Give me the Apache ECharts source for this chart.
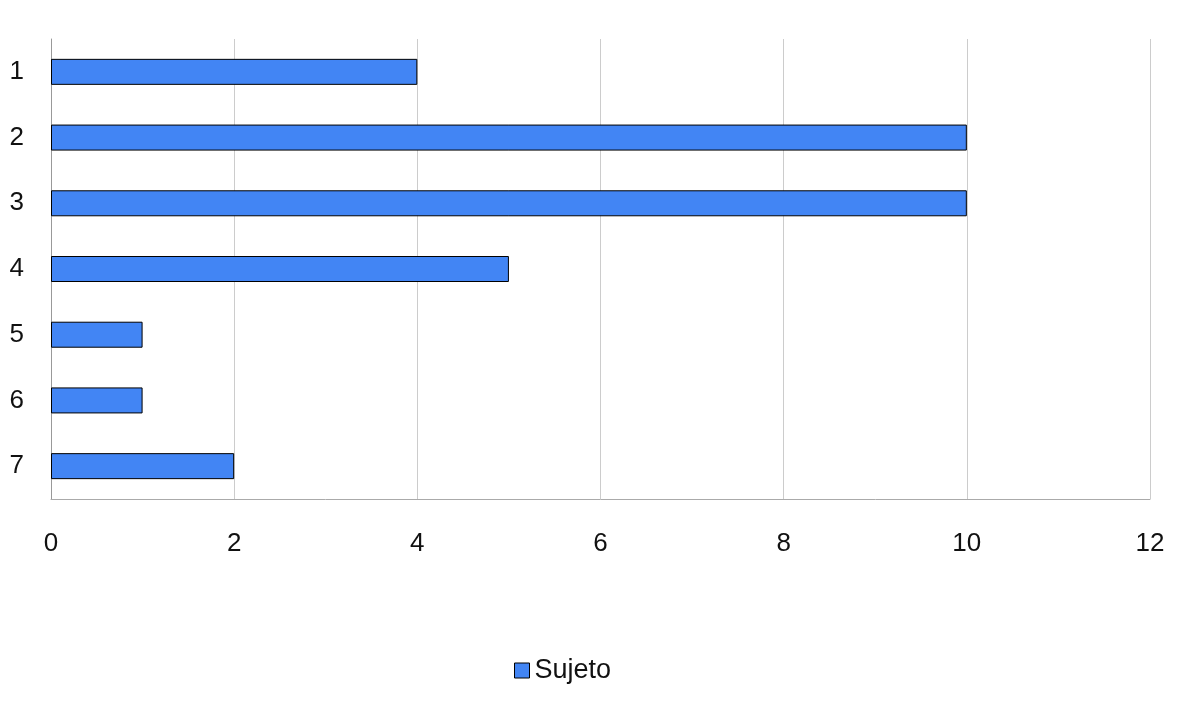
<!DOCTYPE html>
<html>
<head>
<meta charset="utf-8">
<script src="https://cdn.jsdelivr.net/npm/echarts@6/dist/echarts.min.js"></script>
<style>
  html, body { margin: 0; padding: 0; background: #fff; }
  #chart { width: 1185px; height: 704px; }
</style>
</head>
<body>
<div id="chart"></div>
<script>
var categories = ["1", "2", "3", "4", "5", "6", "7"];
var sujeto = [4, 10, 10, 5, 1, 1, 2];
var seriesName = "Sujeto";

var myChart = echarts.init(document.getElementById("chart"));
myChart.setOption({
  animation: false,
  textStyle: { fontFamily: "Liberation Sans, Arial, sans-serif" },
  grid: { left: 51, right: 35, top: 39, bottom: 205, containLabel: false },
  legend: {
    data: [seriesName],
    top: 657,
    left: 514,
    padding: 0,
    itemWidth: 15,
    itemHeight: 15,
    itemGap: 6,
    icon: "rect",
    itemStyle: { borderColor: "#000", borderWidth: 1 },
    textStyle: { fontSize: 27, color: "#111", padding: [0, 0, 0, 0] }
  },
  xAxis: {
    type: "value",
    min: 0,
    max: 12,
    interval: 2,
    axisLine: { show: true, lineStyle: { color: "#aaa" } },
    axisTick: { show: false },
    splitLine: { show: true, lineStyle: { color: "#ccc" } },
    axisLabel: { fontSize: 26, color: "#111", margin: 32 }
  },
  yAxis: {
    type: "category",
    inverse: true,
    data: categories,
    axisLine: { show: true, lineStyle: { color: "#999" } },
    axisTick: { show: false },
    axisLabel: { fontSize: 26, color: "#111", margin: 27 }
  },
  series: [
    {
      name: seriesName,
      type: "bar",
      data: sujeto,
      barWidth: 26,
      itemStyle: { color: "#4285f4", borderColor: "#000", borderWidth: 1 }
    }
  ]
});
</script>
</body>
</html>
